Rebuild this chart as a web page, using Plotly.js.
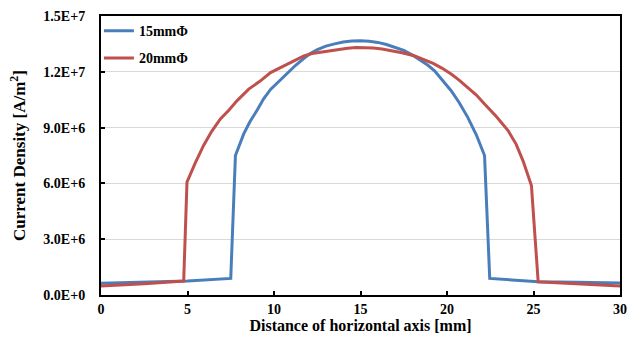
<!DOCTYPE html>
<html><head><meta charset="utf-8">
<script src="https://cdn.plot.ly/plotly-3.0.1.min.js"></script>
<style>html,body{margin:0;padding:0;background:#fff}#chart{width:635px;height:338px}</style>
</head><body><div id="chart"></div>
<script>
const blueName = "15mmΦ";
const redName = "20mmΦ";
const blueX = [0, 2.5, 5, 7.5, 7.77, 8.25, 8.6, 9.03, 9.4, 9.8, 10.3, 10.77, 11.25, 11.73, 12.1, 12.51, 13.0, 13.5, 14.0, 14.5, 15.0, 15.5, 16.0, 16.5, 17.0, 17.5, 18.0, 18.5, 18.9, 19.28, 19.75, 20.24, 20.7, 21.2, 21.7, 22.17, 22.47, 25.27, 27.5, 30];
const blueY = [0.63e6, 0.69e6, 0.75e6, 0.89e6, 7.5e6, 8.66e6, 9.3e6, 9.95e6, 10.55e6, 11.05e6, 11.5e6, 11.9e6, 12.35e6, 12.72e6, 12.98e6, 13.2e6, 13.38e6, 13.5e6, 13.6e6, 13.65e6, 13.67e6, 13.64e6, 13.58e6, 13.47e6, 13.33e6, 13.15e6, 12.9e6, 12.6e6, 12.35e6, 12.05e6, 11.55e6, 10.98e6, 10.35e6, 9.55e6, 8.6e6, 7.5e6, 0.89e6, 0.71e6, 0.68e6, 0.65e6];
const redX = [0, 2.5, 4.78, 4.97, 5.45, 5.93, 6.4, 6.9, 7.4, 7.87, 8.54, 9.2, 9.8, 10.3, 10.77, 11.25, 11.73, 12.2, 12.7, 13.2, 13.75, 14.25, 14.75, 15.25, 15.75, 16.25, 16.75, 17.4, 18.1, 18.6, 19.2, 19.7, 20.24, 20.7, 21.2, 21.7, 22.17, 22.85, 23.53, 24.0, 24.4, 24.88, 25.27, 27.5, 30];
const redY = [0.48e6, 0.6e6, 0.75e6, 6.07e6, 7.1e6, 8.04e6, 8.8e6, 9.47e6, 9.95e6, 10.45e6, 11.07e6, 11.5e6, 11.96e6, 12.2e6, 12.41e6, 12.65e6, 12.86e6, 12.98e6, 13.05e6, 13.15e6, 13.22e6, 13.27e6, 13.3e6, 13.3e6, 13.28e6, 13.23e6, 13.15e6, 13.02e6, 12.86e6, 12.68e6, 12.45e6, 12.2e6, 11.88e6, 11.55e6, 11.15e6, 10.75e6, 10.27e6, 9.6e6, 8.84e6, 8.1e6, 7.2e6, 5.89e6, 0.71e6, 0.6e6, 0.48e6];
const xTicks = [0, 5, 10, 15, 20, 25, 30];
const yTicks = [0, 3e6, 6e6, 9e6, 12e6, 15e6];
const yTickText = ["0.0E+0", "3.0E+6", "6.0E+6", "9.0E+6", "1.2E+7", "1.5E+7"];

const font = "Liberation Serif, Times New Roman, serif";
const traces = [
  {x: blueX, y: blueY, name: blueName, legendgroup: "a", mode: "lines", line: {color: "#4a7ebb", width: 3}},
  {x: redX, y: redY, name: redName, legendgroup: "b", mode: "lines", line: {color: "#c0504d", width: 3}}
];
const layout = {
  width: 635, height: 338,
  margin: {l: 101, r: 15, t: 16, b: 43},
  paper_bgcolor: "#fff", plot_bgcolor: "#fff",
  font: {family: font, color: "#000", size: 13, weight: "bold"},
  showlegend: true,
  legend: {x: -0.004, y: 1.003, xanchor: "left", yanchor: "top", bgcolor: "rgba(0,0,0,0)",
           font: {family: font, size: 14, weight: "bold"}, traceorder: "grouped", tracegroupgap: 6, itemwidth: 30},
  xaxis: {range: [0, 30], tickvals: xTicks, ticks: "inside", ticklen: 4, tickwidth: 2, tickcolor: "#000",
          showline: true, linecolor: "#000", linewidth: 2, mirror: true, showgrid: false, zeroline: false,
          tickfont: {family: font, size: 14, weight: "bold"},
          title: {text: "Distance of horizontal axis [mm]", font: {family: font, size: 16, weight: "bold"}, standoff: 4}},
  yaxis: {range: [0, 15e6], tickvals: yTicks, ticktext: yTickText, ticks: "inside", ticklen: 4, tickwidth: 2, tickcolor: "#000",
          showline: true, linecolor: "#000", linewidth: 2, mirror: true, showgrid: true, gridcolor: "#d9d9d9", gridwidth: 1, zeroline: false,
          tickfont: {family: font, size: 14, weight: "bold"}, ticklabelstandoff: 11,
          title: {text: "Current Density [A/m<sup>2</sup>]", font: {family: font, size: 17, weight: "bold"}, standoff: 13}}
};
Plotly.newPlot("chart", traces, layout, {displayModeBar: false, staticPlot: true});
</script></body></html>
